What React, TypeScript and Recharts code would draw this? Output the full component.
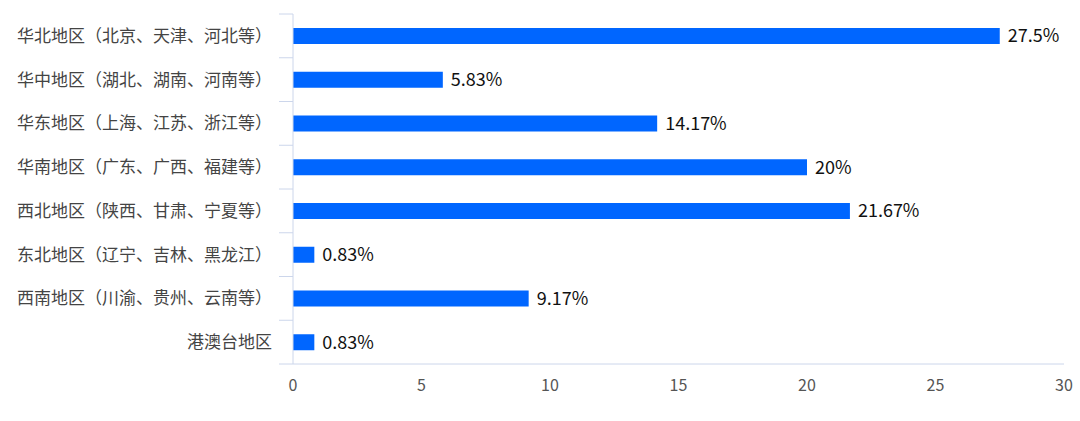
import { BarChart, Bar, XAxis, YAxis, LabelList } from "recharts";

// 各地区占比（%）
const REGIONS = [
  "华北地区（北京、天津、河北等）",
  "华中地区（湖北、湖南、河南等）",
  "华东地区（上海、江苏、浙江等）",
  "华南地区（广东、广西、福建等）",
  "西北地区（陕西、甘肃、宁夏等）",
  "东北地区（辽宁、吉林、黑龙江）",
  "西南地区（川渝、贵州、云南等）",
  "港澳台地区",
];
const SHARES = [27.5, 5.83, 14.17, 20, 21.67, 0.83, 9.17, 0.83];
const X_TICKS = [0, 5, 10, 15, 20, 25, 30];

const DATA = REGIONS.map((name, i) => ({ name, value: SHARES[i] }));

const FONT = '"Microsoft YaHei", "Noto Sans CJK SC", sans-serif';
const AXIS_COLOR = "#ccd6eb";
const TOP = 14;
const BOTTOM = 364;
const AXIS_X = 293;
const BAND = (BOTTOM - TOP) / REGIONS.length;

function CategoryTick(props: any) {
  const { y, payload, index } = props;
  return (
    <g>
      <line x1={AXIS_X - 14} x2={AXIS_X} y1={y - BAND / 2} y2={y - BAND / 2} stroke={AXIS_COLOR} />
      {index === REGIONS.length - 1 && (
        <line x1={AXIS_X - 14} x2={AXIS_X} y1={y + BAND / 2} y2={y + BAND / 2} stroke={AXIS_COLOR} />
      )}
      <text x={272} y={y} dy="0.35em" textAnchor="end" fill="#444" fontSize={17} fontFamily={FONT}>
        {payload.value}
      </text>
    </g>
  );
}

export default function App() {
  return (
    <div style={{ position: "absolute", left: 0, top: 0, background: "#fff" }}>
      <BarChart
        width={1080}
        height={421}
        data={DATA}
        layout="vertical"
        margin={{ top: TOP, right: 16, left: 0, bottom: 17 }}
      >
        <XAxis
          type="number"
          domain={[0, 30]}
          ticks={X_TICKS}
          tickLine={false}
          axisLine={{ stroke: AXIS_COLOR }}
          tickMargin={10}
          height={40}
          tick={{ fill: "#555", fontSize: 16, fontFamily: FONT }}
        />
        <YAxis
          type="category"
          dataKey="name"
          width={AXIS_X}
          tickLine={false}
          axisLine={{ stroke: AXIS_COLOR }}
          tick={<CategoryTick />}
          interval={0}
        />
        <Bar dataKey="value" fill="#0066ff" barSize={16} isAnimationActive={false}>
          <LabelList
            dataKey="value"
            position="right"
            offset={8}
            formatter={(v: any) => `${v}%`}
            style={{ fill: "#111", fontSize: 18, fontFamily: FONT }}
          />
        </Bar>
      </BarChart>
    </div>
  );
}
